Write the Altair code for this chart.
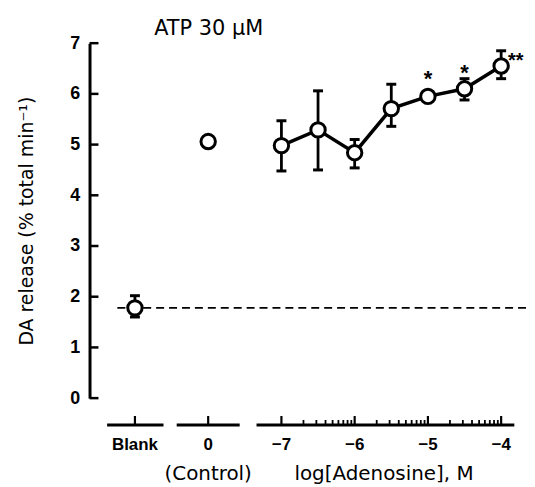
import altair as alt
import pandas as pd
import numpy as np

# ---------------- data ----------------
log_conc = [-7.0, -6.5, -6.0, -5.5, -5.0, -4.5, -4.0]
release = [4.98, 5.29, 4.84, 5.71, 5.95, 6.10, 6.55]
err_low = [4.48, 4.50, 4.54, 5.36, 5.95, 5.88, 6.30]
err_high = [5.47, 6.06, 5.10, 6.19, 5.95, 6.30, 6.85]

blank_value = 1.78
blank_low = 1.60
blank_high = 2.02
control_value = 5.06

star_conc = [-5.0, -4.5]
star_level = [6.39, 6.51]
double_star_conc = [-4.0]
double_star_level = [6.75]

y_ticks = [0, 1, 2, 3, 4, 5, 6, 7]
tick_labels = ["Blank", "0", "\u22127", "\u22126", "\u22125", "\u22124"]

# ---------------- layout helpers (x positions on a log axis) ----------------
BLANK_X = -9.0
CONTROL_X = -8.0
X_DOMAIN = [-9.62, -3.647]
W, H = 440, 357
AXIS_Y = 384            # pixel row of the broken x axis (below the plot)
FONT = "Liberation Sans"
TFONT = "DejaVu Sans"

pts = pd.DataFrame({
    "x": [BLANK_X, CONTROL_X] + log_conc,
    "y": [blank_value, control_value] + release,
    "lo": [blank_low, control_value] + err_low,
    "hi": [blank_high, control_value] + err_high,
})
curve = pd.DataFrame({"x": log_conc, "y": release})

xs = alt.Scale(domain=X_DOMAIN, nice=False, zero=False)
ys = alt.Scale(domain=[0, 7], nice=False, zero=False)
X = lambda f="x": alt.X(f + ":Q", scale=xs, axis=None)

base_y = alt.Y("y:Q", scale=ys, axis=alt.Axis(
    values=y_ticks, ticks=False, grid=False, domain=True, domainColor="black",
    domainWidth=3, labelFont=FONT, labelFontSize=18, labelFontWeight="bold",
    labelColor="black", labelPadding=10,
    title="DA release (% total min\u207b\u00b9)", titleFont=TFONT, titleFontSize=19,
    titleFontWeight="normal", titleColor="black", titlePadding=33))

# dashed baseline at blank level
dash = alt.Chart(pd.DataFrame({"y": [blank_value]})).mark_rule(
    color="black", strokeWidth=1.8, strokeDash=[8, 5]).encode(
    x=alt.value(28), x2=alt.value(W), y=base_y)

ebars = alt.Chart(pts).mark_rule(color="black", strokeWidth=2.8).encode(
    x=X(), y=alt.Y("lo:Q", scale=ys), y2="hi:Q")
caps_hi = alt.Chart(pts).mark_tick(orient="horizontal", color="black",
                                   size=10, thickness=3, opacity=1).encode(
    x=X(), y=alt.Y("hi:Q", scale=ys))
caps_lo = alt.Chart(pts).mark_tick(orient="horizontal", color="black",
                                   size=10, thickness=3, opacity=1).encode(
    x=X(), y=alt.Y("lo:Q", scale=ys))

line = alt.Chart(curve).mark_line(color="black", strokeWidth=3.5).encode(
    x=X(), y=alt.Y("y:Q", scale=ys))

circles = alt.Chart(pts).mark_point(shape="circle", filled=True, fill="white",
                                    stroke="black", strokeWidth=3, size=210,
                                    opacity=1).encode(
    x=X(), y=alt.Y("y:Q", scale=ys))

stars = alt.Chart(pd.DataFrame({"x": star_conc, "y": star_level})).mark_text(
    text="*", font=FONT, fontSize=22, fontWeight="bold", baseline="middle",
    dy=5, color="black").encode(x=X(), y=alt.Y("y:Q", scale=ys))
stars2 = alt.Chart(pd.DataFrame({"x": double_star_conc, "y": double_star_level})).mark_text(
    text="**", font=FONT, fontSize=20, fontWeight="bold", baseline="middle",
    align="left", dx=7, dy=5, color="black").encode(x=X(), y=alt.Y("y:Q", scale=ys))

# y axis inward ticks
ytick = alt.Chart(pd.DataFrame({"y": y_ticks})).mark_rule(
    color="black", strokeWidth=2.5).encode(
    x=alt.value(0), x2=alt.value(9), y=alt.Y("y:Q", scale=ys))

# broken x axis
segs = pd.DataFrame({
    "x": [BLANK_X - 0.38, CONTROL_X - 0.43, log_conc[0] - 0.34],
    "x2": [BLANK_X + 0.39, CONTROL_X + 0.43, log_conc[-1] + 0.18],
})
xaxis = alt.Chart(segs).mark_rule(color="black", strokeWidth=3).encode(
    x=X(), x2="x2:Q", y=alt.value(AXIS_Y))

major_x = [BLANK_X, CONTROL_X, -7, -6, -5, -4]
major = alt.Chart(pd.DataFrame({"x": major_x})).mark_rule(
    color="black", strokeWidth=2.2).encode(
    x=X(), y=alt.value(AXIS_Y - 9), y2=alt.value(AXIS_Y))

minor_x = [d + np.log10(k) for d in (-7, -6, -5) for k in range(2, 10)]
minor = alt.Chart(pd.DataFrame({"x": minor_x})).mark_rule(
    color="black", strokeWidth=1.8).encode(
    x=X(), y=alt.value(AXIS_Y - 5), y2=alt.value(AXIS_Y))

tlab = alt.Chart(pd.DataFrame({"x": major_x, "t": tick_labels})).mark_text(
    font=FONT, fontSize=17, fontWeight="bold", baseline="middle", color="black").encode(
    x=X(), y=alt.value(AXIS_Y + 20), text="t:N")

sub = alt.Chart(pd.DataFrame({"x": [CONTROL_X, -5.6],
                              "t": ["(Control)", "log[Adenosine], M"]})).mark_text(
    font=TFONT, fontSize=20, baseline="middle", color="black").encode(
    x=X(), y=alt.value(AXIS_Y + 49), text="t:N")

title = alt.Chart(pd.DataFrame({"t": ["ATP 30 \u03bcM"]})).mark_text(
    font=TFONT, fontSize=21, align="left", baseline="middle", color="black").encode(
    x=alt.value(65), y=alt.value(-14), text="t:N")

chart = alt.layer(
    dash, ebars, caps_hi, caps_lo, line, circles, stars, stars2,
    ytick, xaxis, major, minor, tlab, sub, title
).properties(
    width=W, height=H,
    autosize=alt.AutoSizeParams(type="none"),
    padding={"left": 82, "top": 34, "right": 0, "bottom": 87},
).configure_view(stroke=None)

chart.save("out.html", embed_options={"renderer": "svg", "actions": False})
